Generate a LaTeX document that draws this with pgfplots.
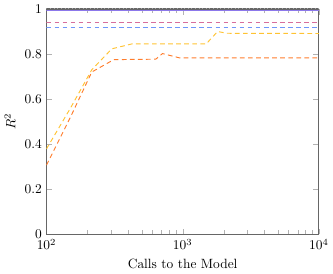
\documentclass[border=0pt]{standalone}
\usepackage{pgfplots}
\pgfplotsset{compat=1.18}
\definecolor{cpurple}{RGB}{140,120,235}
\definecolor{cpink}{RGB}{215,110,155}
\definecolor{cblue}{RGB}{110,150,250}
\definecolor{cyellow}{RGB}{255,195,50}
\definecolor{corange}{RGB}{255,125,45}
\begin{document}
\begin{tikzpicture}
\begin{axis}[
  scale only axis,
  width=203pt, height=168pt,
  xmode=log,
  xmin=100, xmax=10000,
  ymin=0, ymax=1,
  ytick={0,0.2,0.4,0.6,0.8,1},
  yticklabels={0,0.2,0.4,0.6,0.8,1},
  xlabel={Calls to the Model},
  ylabel={$R^2$},
  axis line style={gray!80!black, line width=0.9pt},
  tick style={gray!60},
  every axis plot/.append style={line width=0.7pt},
]
\addplot[gray!70, dotted] coordinates {(100,1) (10000,1)};
\addplot[cpurple, solid] coordinates {(100,0.994) (10000,0.994)};
\addplot[cpink, dash pattern=on 3.5pt off 2.5pt] coordinates {(100,0.940) (10000,0.940)};
\addplot[cblue, dash pattern=on 3.5pt off 2.5pt] coordinates {(100,0.918) (10000,0.918)};
\addplot[cyellow, dash pattern=on 3.5pt off 2.5pt] coordinates {
 (100,0.379) (150,0.56) (215,0.73) (302,0.823) (425,0.845) (1490,0.845) (1807,0.900) (2100,0.892) (10000,0.891)};
\addplot[corange, dash pattern=on 3.5pt off 2.5pt] coordinates {
 (100,0.307) (150,0.52) (215,0.72) (312,0.775) (635,0.777) (711,0.802) (946,0.783) (10000,0.783)};
\end{axis}
\end{tikzpicture}
\end{document}
